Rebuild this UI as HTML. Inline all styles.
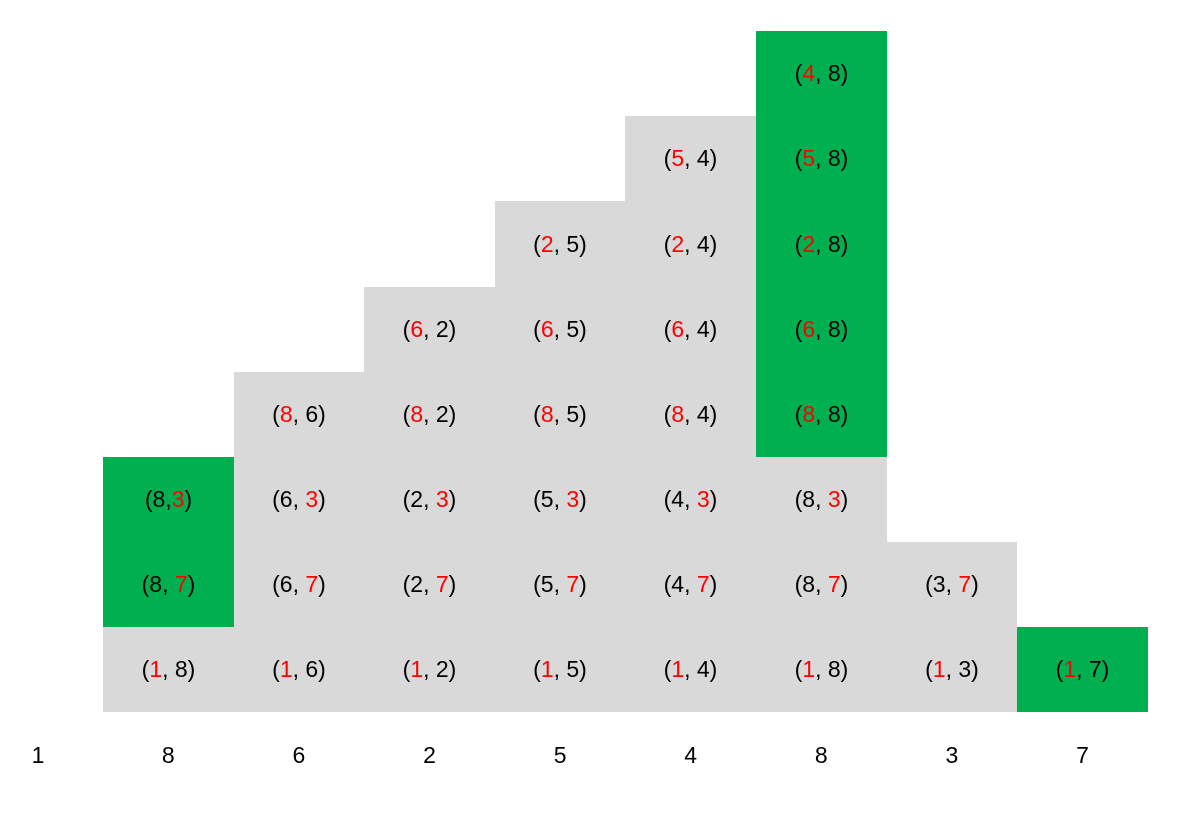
<!DOCTYPE html>
<html><head><meta charset="utf-8"><style>
html,body{margin:0;padding:0;background:#fff;}
#chart{position:relative;width:1192px;height:825px;overflow:hidden;font-family:"Liberation Sans",sans-serif;font-size:23px;color:#000;}
.cell{position:absolute;display:flex;align-items:center;justify-content:center;}
.t{white-space:pre;}
.r{color:#ff0000;}
.lbl{position:absolute;width:60px;text-align:center;top:742px;}
</style></head><body>
<div id="chart"></div>
<script>
const labels = ["1","8","6","2","5","4","8","3","7"];
const columns = [
  ["(|1|, 8)","(8, |7|)","(8,|3|)"],
  ["(|1|, 6)","(6, |7|)","(6, |3|)","(|8|, 6)"],
  ["(|1|, 2)","(2, |7|)","(2, |3|)","(|8|, 2)","(|6|, 2)"],
  ["(|1|, 5)","(5, |7|)","(5, |3|)","(|8|, 5)","(|6|, 5)","(|2|, 5)"],
  ["(|1|, 4)","(4, |7|)","(4, |3|)","(|8|, 4)","(|6|, 4)","(|2|, 4)","(|5|, 4)"],
  ["(|1|, 8)","(8, |7|)","(8, |3|)","(|8|, 8)","(|6|, 8)","(|2|, 8)","(|5|, 8)","(|4|, 8)"],
  ["(|1|, 3)","(3, |7|)"],
  ["(|1|, 7)"]
];
const greens = [[1,2],[],[],[],[],[3,4,5,6,7],[],[0]];
const chart = document.getElementById('chart');
const x0 = 103, cw = 130.6, yb = 712, rh = 85.1;
function colX(i){ return x0 + i*cw; }
function rowY(j){ return yb - (j+1)*rh; }
columns.forEach((col, i) => {
  col.forEach((txt, j) => {
    const d = document.createElement('div');
    d.className = 'cell';
    
    
    const x1 = Math.round(colX(i)), x2 = Math.round(colX(i+1));
    const y1 = Math.round(rowY(j)), y2 = Math.round(rowY(j-1));
    d.style.left = x1 + 'px'; d.style.top = y1 + 'px';
    d.style.width = (x2 - x1) + 'px'; d.style.height = (y2 - y1) + 'px';
    d.style.background = greens[i].includes(j) ? '#00b050' : '#d9d9d9';
    const parts = txt.split('|');
    d.innerHTML = '<span class="t">' + parts[0] + '<span class="r">' + parts[1] + '</span>' + parts[2] + '</span>';
    chart.appendChild(d);
  });
});
labels.forEach((t, k) => {
  const l = document.createElement('div');
  l.className = 'lbl';
  
  
  const cx = k === 0 ? 38 : colX(k-1) + cw/2;
  l.style.left = (cx - 30) + 'px';
  l.textContent = t;
  chart.appendChild(l);
});
</script>
</body></html>
